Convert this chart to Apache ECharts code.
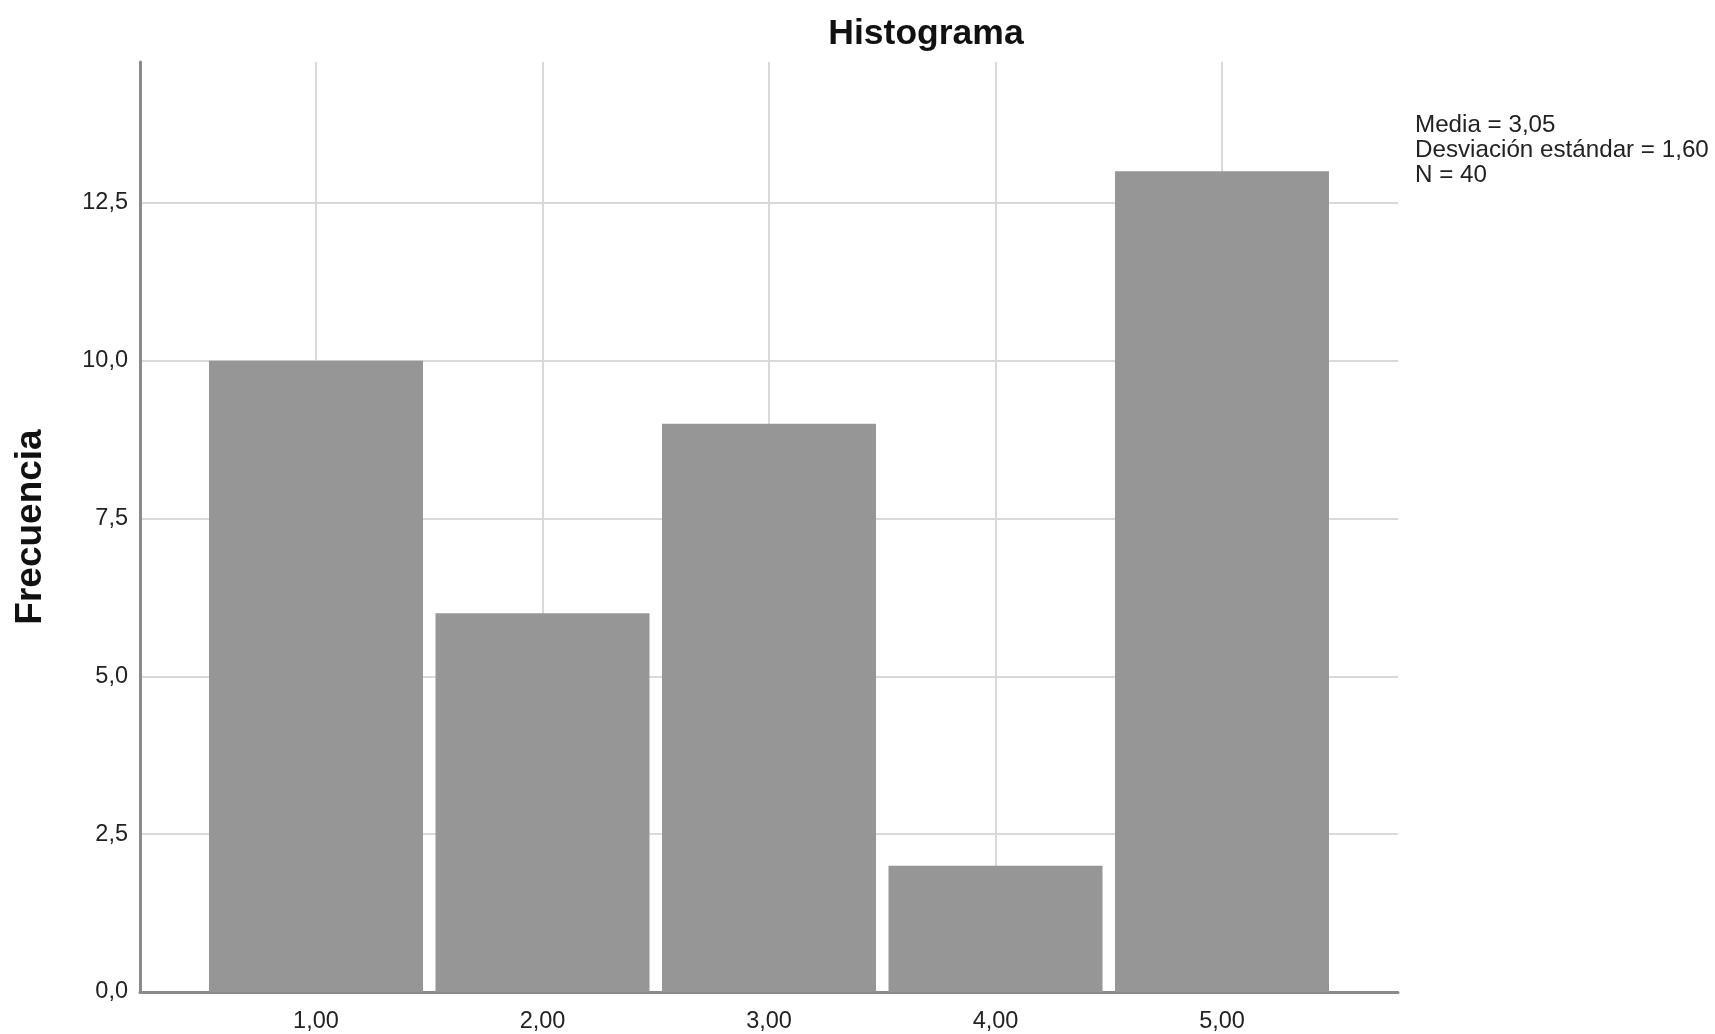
<!DOCTYPE html>
<html>
<head>
<meta charset="utf-8">
<script src="https://cdn.jsdelivr.net/npm/echarts@6/dist/echarts.min.js"></script>
<style>html,body{margin:0;padding:0;background:#fff}#c{width:1715px;height:1034px}</style>
</head>
<body>
<div id="c"></div>
<script>
const binCenters = [1, 2, 3, 4, 5];
const frequencies = [10, 6, 9, 2, 13];
const xTickValues = [1, 2, 3, 4, 5];
const yTickValues = [0, 2.5, 5, 7.5, 10, 12.5];
const statLines = ['Media = 3,05', 'Desviación estándar = 1,60', 'N = 40'];
const titleText = 'Histograma';
const yAxisName = 'Frecuencia';

const FONT = '"Liberation Sans", Arial, sans-serif';
const chart = echarts.init(document.getElementById('c'), null, {renderer: 'canvas'});
const fmt = (v, d) => v.toFixed(d).replace('.', ',');

chart.setOption({
  animation: false,
  backgroundColor: '#ffffff',
  title: {
    text: titleText, left: 921, top: 11, textAlign: 'center',
    textStyle: {fontFamily: FONT, fontSize: 35.5, fontWeight: 'bold', color: '#111'}
  },
  grid: {left: 140, right: 317, top: 62, bottom: 41, containLabel: false},
  xAxis: {
    type: 'value', min: 0.223, max: 5.777,
    axisLine: {show: true, lineStyle: {color: '#8a8a8a', width: 3}},
    axisTick: {show: false, customValues: xTickValues},
    axisLabel: {customValues: xTickValues, margin: 18, fontFamily: FONT, fontSize: 23.5, color: '#222',
      formatter: v => fmt(v, 2)},
    splitLine: {show: true, lineStyle: {color: '#d9d9d9', width: 2}}
  },
  yAxis: {
    type: 'value', min: 0, max: 14.73,
    name: yAxisName, nameLocation: 'middle', nameGap: 91, nameRotate: 90,
    nameTextStyle: {fontFamily: FONT, fontSize: 37, fontWeight: 'bold', color: '#111'},
    axisLine: {show: true, lineStyle: {color: '#8a8a8a', width: 3}},
    axisTick: {show: false, customValues: yTickValues},
    axisLabel: {customValues: yTickValues, margin: 12, fontFamily: FONT, fontSize: 23.5, color: '#222',
      formatter: v => fmt(v, 1)},
    splitLine: {show: true, lineStyle: {color: '#d9d9d9', width: 2}}
  },
  series: [{
    type: 'bar',
    data: binCenters.map((c, i) => [c, frequencies[i]]),
    barWidth: 214,
    itemStyle: {color: '#969696'},
    z: 3
  }],
  graphic: [{
    type: 'text', left: 1415, top: 113,
    style: {text: statLines.join('\n'), fontFamily: FONT, fontSize: 24.2, lineHeight: 25, fill: '#222'}
  }]
});
</script>
</body>
</html>
